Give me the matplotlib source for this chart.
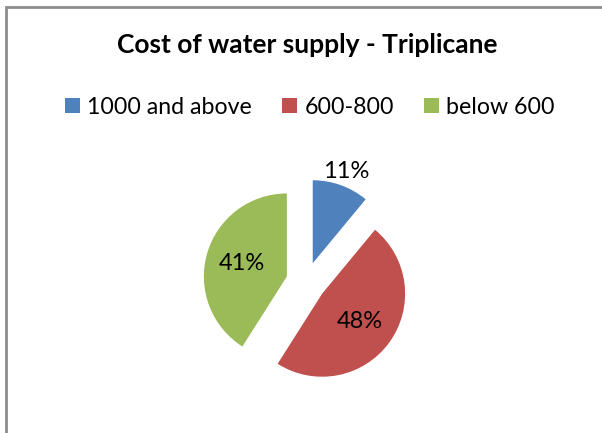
import matplotlib.pyplot as plt
from matplotlib.patches import Rectangle
import numpy as np

# data
categories = ['1000 and above', '600-800', 'below 600']
shares = [11, 48, 41]
colors = ['#4F81BD', '#C0504D', '#9BBB59']
title = 'Cost of water supply - Triplicane'

plt.rcParams['font.family'] = ['Lato', 'DejaVu Sans']

W, H = 602, 433
fig = plt.figure(figsize=(W / 100, H / 100), dpi=100)
ax = fig.add_axes([0, 0, 1, 1])

# pie, clockwise from 12 o'clock, all slices pulled out (explode is in data units here)
radius = 83
center = (306, H - 282)
pull = 0.24 * radius
wedges, texts, autotexts = ax.pie(shares, colors=colors, startangle=90, counterclock=False,
                                  explode=[pull] * len(shares), radius=radius, center=center,
                                  autopct='%1.0f%%', pctdistance=0.56,
                                  textprops={'fontsize': 17, 'color': 'black'},
                                  wedgeprops={'linewidth': 0})

# small slice label sits outside
for w, t, s in zip(wedges, autotexts, shares):
    if s < 20:
        ang = np.deg2rad((w.theta1 + w.theta2) / 2)
        cx, cy = w.center
        t.set_position((cx + 1.18 * radius * np.cos(ang), cy + 1.18 * radius * np.sin(ang)))

ax.set_xlim(0, W)
ax.set_ylim(0, H)
ax.set_aspect('equal')
ax.axis('off')

# chart border
ax.add_patch(Rectangle((5.5, -10), W + 20, H - 6.5 + 10, fill=False, edgecolor='#8C8C8C', linewidth=2))

ax.text(307, H - 45, title, ha='center', va='center', fontsize=19, fontweight='bold')

leg = ax.legend(wedges, categories, loc='center', bbox_to_anchor=(310 / W, 1 - 107 / H),
                ncol=3, frameon=False, fontsize=16.7, handlelength=0.65, handleheight=0.65,
                handletextpad=0.3, columnspacing=1.3, borderpad=0)

plt.savefig('out.png', dpi=100)
